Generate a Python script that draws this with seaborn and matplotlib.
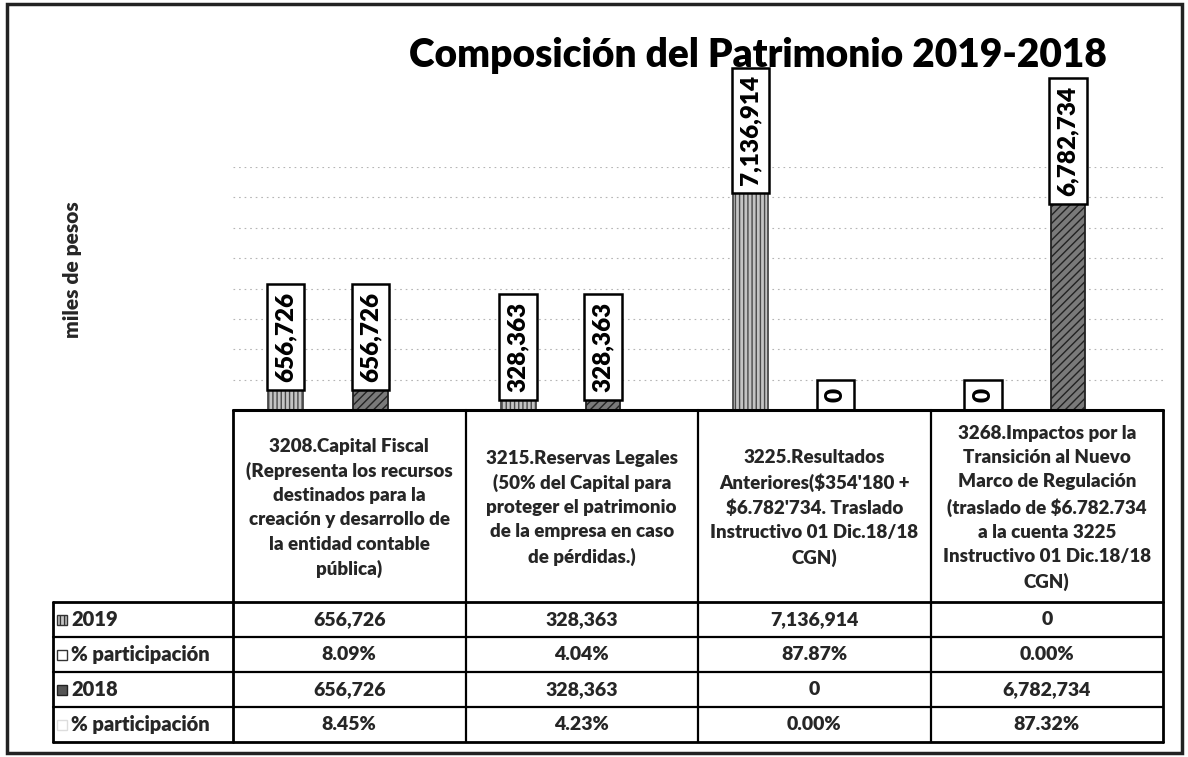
import matplotlib
matplotlib.use("Agg")
import matplotlib.pyplot as plt
import matplotlib.transforms as mtransforms
from matplotlib.patches import Rectangle
from matplotlib.lines import Line2D
import seaborn as sns
import pandas as pd

# ---------------- data ----------------
categorias = [
    "3208.Capital Fiscal\n(Representa los recursos\ndestinados para la\ncreación y desarrollo de\nla entidad contable\npública)",
    "3215.Reservas Legales\n(50% del Capital para\nproteger el patrimonio\nde la empresa en caso\nde pérdidas.)",
    "3225.Resultados\nAnteriores($354'180 +\n$6.782'734. Traslado\nInstructivo 01 Dic.18/18\nCGN)",
    "3268.Impactos por la\nTransición al Nuevo\nMarco de Regulación\n(traslado de $6.782.734\na la cuenta 3225\nInstructivo 01 Dic.18/18\nCGN)",
]
valores_2019 = [656726, 328363, 7136914, 0]
part_2019 = [8.09, 4.04, 87.87, 0.00]
valores_2018 = [656726, 328363, 0, 6782734]
part_2018 = [8.45, 4.23, 0.00, 87.32]
series = ["2019", "% participación 2019", "2018", "% participación 2018"]
etiquetas_filas = ["2019", "% participación", "2018", "% participación"]
titulo = "Composición del Patrimonio 2019-2018"
eje_y = "miles de pesos"

# ---------------- style ----------------
sns.set_theme(style="white")
plt.rcParams["font.family"] = ["Lato", "DejaVu Sans"]
FW = "heavy"

W, H = 1188, 757
fig = plt.figure(figsize=(W / 100, H / 100), dpi=100)
fig.patch.set_facecolor("white")

def fy(py):
    return 1 - py / H

ax = fig.add_axes([233 / W, fy(410), (1163 - 233) / W, (410 - 167) / H])

ids = list(range(len(categorias)))
df = pd.DataFrame({
    "cat": ids * 4,
    "serie": [series[0]] * 4 + [series[1]] * 4 + [series[2]] * 4 + [series[3]] * 4,
    "valor": valores_2019 + part_2019 + valores_2018 + part_2018,
})

sns.barplot(data=df, x="cat", y="valor", hue="serie", hue_order=series,
            width=0.73, dodge=True, legend=False, ax=ax,
            err_kws={"linewidth": 0}, native_scale=True)

estilos = {
    0: dict(fc="#c4c4c4", ec="#4a4a4a", hatch="||||"),
    2: dict(fc="#7a7a7a", ec="#222222", hatch="////"),
}
vals_by = {0: valores_2019, 2: valores_2018}
for ci, cont in enumerate(ax.containers):
    for j, p in enumerate(cont):
        if ci in (1, 3):
            p.set_visible(False)
            continue
        cx = p.get_x() + p.get_width() / 2
        p.set_width(0.15)
        p.set_x(cx - 0.075)
        st = estilos[ci]
        p.set_facecolor(st["fc"])
        p.set_edgecolor(st["ec"])
        p.set_hatch(st["hatch"])
        p.set_linewidth(1.3)
        v = vals_by[ci][j]
        ax.annotate(f"{v:,}", xy=(cx, v), xytext=(0, 5.6), textcoords="offset points",
                    rotation=90, ha="center", va="bottom", fontsize=17.5,
                    fontweight=FW, color="black", annotation_clip=False, zorder=5,
                    bbox=dict(boxstyle="square,pad=0.32", fc="white", ec="black", lw=1.8))

ax.set_xlim(-0.5, 3.5)
ax.set_ylim(0, 8000000)
ax.set_yticks(range(0, 8000001, 1000000))
ax.set_yticklabels([])
ax.set_xticks([])
ax.set_xlabel("")
ax.set_ylabel("")
ax.yaxis.grid(True, color="#b5b5b5", linestyle=(0, (1.5, 3.5)), linewidth=0.8)
ax.set_axisbelow(True)
ax.tick_params(left=False, bottom=False)
for s in ax.spines.values():
    s.set_visible(False)
ax.set_facecolor("white")

# ---------------- data table ----------------
trans = mtransforms.blended_transform_factory(ax.transData, fig.transFigure)

def xd(px):
    return -0.5 + (px - 233) / 232.5

y_head_top, y_head_bot = 410, 602
row_lines = [602, 637, 672, 707, 742]
x_left = xd(53)

def hline(x0, x1, py, lw=1.8):
    fig.add_artist(Line2D([x0, x1], [fy(py), fy(py)], transform=trans, color="black", lw=lw))

def vline(x, py0, py1, lw=1.8):
    fig.add_artist(Line2D([x, x], [fy(py0), fy(py1)], transform=trans, color="black", lw=lw))

hline(-0.5, 3.5, y_head_top, lw=2.2)
for py in row_lines:
    hline(x_left, 3.5, py, lw=2.0 if py in (602, 742) else 1.6)
for k in range(5):
    vline(-0.5 + k, y_head_top, row_lines[-1], lw=2.0 if k in (0, 4) else 1.6)
vline(x_left, row_lines[0], row_lines[-1], lw=2.0)

# header text
for i, c in enumerate(categorias):
    fig.text(i, fy((y_head_top + y_head_bot) / 2 + 2), c, transform=trans,
             ha="center", va="center", fontsize=13.5, fontweight=FW,
             linespacing=1.5, multialignment="center")

filas = [
    [f"{v:,}" for v in valores_2019],
    [f"{v:.2f}%" for v in part_2019],
    [f"{v:,}" for v in valores_2018],
    [f"{v:.2f}%" for v in part_2018],
]
key_styles = [
    dict(fc="#c4c4c4", ec="#333333", hatch="||||"),
    dict(fc="white", ec="#333333", hatch=None),
    dict(fc="#555555", ec="#222222", hatch=None),
    dict(fc="white", ec="#dddddd", hatch=None),
]
for r in range(4):
    yc = (row_lines[r] + row_lines[r + 1]) / 2
    for i in range(4):
        fig.text(i, fy(yc), filas[r][i], transform=trans, ha="center", va="center",
                 fontsize=14, fontweight=FW)
    ks = key_styles[r]
    fig.add_artist(Rectangle((xd(57), fy(yc + 5)), xd(67) - xd(57), 10 / H,
                             transform=trans, facecolor=ks["fc"], edgecolor=ks["ec"],
                             hatch=ks["hatch"], lw=1.0))
    fig.text(xd(71), fy(yc), etiquetas_filas[r], transform=trans, ha="left", va="center",
             fontsize=14.5, fontweight=FW)

# title, axis label and frame
fig.text(757.5 / W, fy(67), titulo, ha="center", va="baseline", fontsize=28,
         fontweight=FW, color="black")
fig.text(72 / W, fy(270), eje_y, ha="center", va="center", rotation=90,
         fontsize=15, fontweight=FW)
fig.add_artist(Rectangle((7 / W, fy(753)), (1182 - 7) / W, (753 - 4) / H,
                         transform=fig.transFigure, fill=False, ec="#222222", lw=2.5))

fig.savefig("out.png", dpi=100, facecolor="white")
